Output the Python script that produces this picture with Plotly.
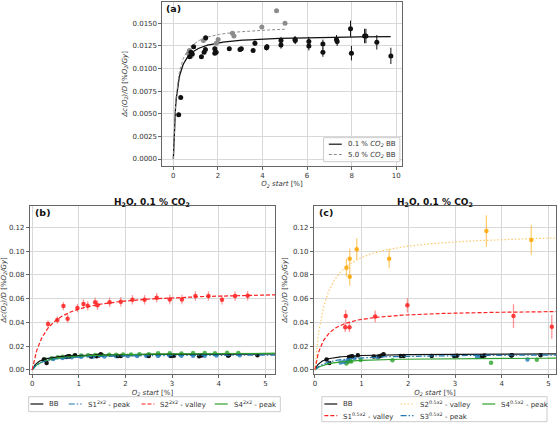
import numpy as np
import plotly.graph_objects as go

W, H = 560, 427

# ---------------- data: panel (a) ----------------
a_bb_x = [0.24, 0.33, 0.73, 0.79, 0.85, 0.91, 1.26, 1.38, 1.44, 1.45, 1.86, 1.86, 1.92, 2.51, 2.99, 3.05,
          3.58, 3.66, 4.18, 4.20, 4.83, 4.83, 5.46, 5.47, 6.08, 6.08, 6.71, 6.71, 7.32, 7.35, 7.95, 7.99,
          8.58, 8.64, 9.13, 9.76]
a_bb_y = [0.0049, 0.0068, 0.0113, 0.0118, 0.0116, 0.0124, 0.0113, 0.0118, 0.0121, 0.0134, 0.0122, 0.0117,
          0.0118, 0.0122, 0.0121, 0.0122, 0.0120, 0.0128, 0.0123, 0.0124, 0.0126, 0.0131, 0.0132, 0.0131,
          0.0130, 0.0125, 0.0127, 0.0118, 0.0132, 0.0130, 0.0144, 0.0117, 0.0136, 0.0136, 0.0129, 0.0114]
a_bb_err = [0.0002, 0.0002, 0.0002, 0.0002, 0.0002, 0.0002, 0.0002, 0.0002, 0.0002, 0.0002, 0.0002, 0.0002,
            0.0002, 0.0002, 0.0002, 0.0002, 0.0002, 0.0003, 0.0003, 0.0003, 0.0004, 0.0004, 0.0004, 0.0004,
            0.0005, 0.0005, 0.0005, 0.0005, 0.0005, 0.0005, 0.0009, 0.0008, 0.0008, 0.0008, 0.0008, 0.0009]
a_gr_x = [0.68, 0.72, 0.80, 1.35, 1.43, 1.93, 2.01, 2.65, 2.72, 3.97, 4.63, 5.01]
a_gr_y = [0.0117, 0.0120, 0.0114, 0.0131, 0.0133, 0.0128, 0.0132, 0.0139, 0.0136, 0.0146, 0.0164, 0.0150]

# fit parameters y = A*x/(B+x)
fit_a_bb = (0.01372, 0.1383)
fit_a_gr = (0.01476, 0.147)

# ---------------- data: panel (b) & (c) BB ----------------
bb_x = [0.25, 0.31, 0.73, 0.77, 0.80, 0.92, 1.26, 1.38, 1.43, 1.47, 1.84, 1.90, 2.50, 2.98, 3.04, 3.58,
        3.63, 4.20, 4.22, 4.83]
bb_y = [0.0087, 0.0058, 0.0108, 0.0112, 0.0115, 0.0122, 0.0112, 0.0114, 0.0120, 0.0132, 0.0117, 0.0117,
        0.0117, 0.0117, 0.0119, 0.0115, 0.0120, 0.0120, 0.0122, 0.0123]

# panel (b)
b_s1_x = [0.27, 0.45, 0.65, 0.85, 1.05, 1.30, 1.55, 1.80, 2.05, 2.25, 2.45, 2.70, 2.95, 3.20, 3.45, 3.70,
          3.95, 4.20, 4.45]
b_s1_y = [0.0080, 0.0092, 0.0100, 0.0106, 0.0110, 0.0111, 0.0113, 0.0115, 0.0116, 0.0117, 0.0117, 0.0117,
          0.0118, 0.0118, 0.0119, 0.0119, 0.0120, 0.0121, 0.0122]
b_s2_x = [0.34, 0.54, 0.67, 0.76, 0.97, 1.10, 1.19, 1.35, 1.40, 1.66, 1.90, 2.15, 2.41, 2.67, 2.95, 3.21,
          3.50, 3.78, 4.07, 4.35, 4.62]
b_s2_y = [0.0385, 0.0420, 0.0537, 0.0431, 0.0520, 0.0555, 0.0539, 0.0570, 0.0544, 0.0570, 0.0573, 0.0590,
          0.0590, 0.0607, 0.0592, 0.0592, 0.0622, 0.0622, 0.0591, 0.0622, 0.0624]
b_s2_err = [0.0030, 0.0030, 0.0035, 0.0035, 0.0035, 0.0040, 0.0040, 0.0040, 0.0040, 0.0040, 0.0040, 0.0040,
            0.0040, 0.0040, 0.0040, 0.0040, 0.0040, 0.0040, 0.0040, 0.0040, 0.0040]
b_s4_x = [0.27, 0.42, 0.55, 0.65, 0.77, 0.90, 1.05, 1.20, 1.35, 1.50, 1.65, 1.80, 1.95, 2.12, 2.30, 2.50,
          2.70, 2.95, 3.20, 3.45, 3.70, 3.92, 4.18, 4.42]
b_s4_y = [0.0090, 0.0098, 0.0105, 0.0110, 0.0115, 0.0118, 0.0120, 0.0122, 0.0125, 0.0124, 0.0127, 0.0128,
          0.0129, 0.0130, 0.0131, 0.0132, 0.0140, 0.0140, 0.0138, 0.0141, 0.0141, 0.0140, 0.0143, 0.0142]

fit_b_s1 = (0.0129, 0.20)
fit_b_s2 = (0.0669, 0.307)
fit_b_s4 = (0.0145, 0.25)

# panel (c)
c_s1_x = [0.65, 0.66, 0.74, 1.29, 1.98, 4.25, 5.07]
c_s1_y = [0.0358, 0.0453, 0.0358, 0.0450, 0.0543, 0.0453, 0.0362]
c_s1_err = [0.004, 0.005, 0.004, 0.005, 0.006, 0.010, 0.010]
c_s2_x = [0.675, 0.746, 0.746, 0.896, 1.59, 3.67, 4.63]
c_s2_y = [0.0860, 0.0936, 0.0784, 0.1015, 0.0936, 0.1169, 0.1093]
c_s2_err = [0.0075, 0.0085, 0.0075, 0.0090, 0.0080, 0.0133, 0.0126]
c_s3_x = [0.55, 0.62, 0.70, 0.85, 1.34, 3.47, 3.55, 4.55]
c_s3_y = [0.0062, 0.0066, 0.0080, 0.0099, 0.0105, 0.0109, 0.0113, 0.0088]
c_s4_x = [0.675, 0.71, 0.75, 0.78, 0.98, 1.66, 3.77, 4.75]
c_s4_y = [0.0054, 0.0068, 0.0076, 0.0070, 0.0082, 0.0080, 0.0060, 0.0086]

fit_c_s1 = (0.0509, 0.197)
fit_c_s2 = (0.1158, 0.223)
fit_c_s3 = (0.0132, 0.30)
fit_c_s4 = (0.01037, 0.296)

BLACK = "#111111"
GRAY = "#8c8c8c"
BLUE = "#1f77b4"
RED = "#ff2020"
GREEN = "#2ca02c"
ORANGE = "#ffa500"
ORANGE_LINE = "rgba(255,190,80,0.85)"
FONT = "DejaVu Sans"
DASH = "4px,2px"
DASHDOT = "6px,2px,1.5px,2px"
DOT = "1.5px,2px"


def mm(p, x):
    x = np.asarray(x, dtype=float)
    return p[0] * x / (p[1] + x)


def px(x):
    return x / W


def py(y):
    return 1 - y / H


fig = go.Figure()

# ---------- panel (a) ----------
fx = np.linspace(0, 9.75, 300)
fig.add_trace(go.Scatter(x=fx, y=mm(fit_a_bb, fx), mode="lines", line=dict(color=BLACK, width=1.3),
                         xaxis="x", yaxis="y", showlegend=False))
fx2 = np.linspace(0, 5.0, 200)
fig.add_trace(go.Scatter(x=fx2, y=mm(fit_a_gr, fx2), mode="lines", line=dict(color=GRAY, width=1, dash="3px,2px"),
                         xaxis="x", yaxis="y", showlegend=False))
fig.add_trace(go.Scatter(x=a_gr_x, y=a_gr_y, mode="markers", marker=dict(color=GRAY, size=5),
                         xaxis="x", yaxis="y", showlegend=False))
fig.add_trace(go.Scatter(x=a_bb_x, y=a_bb_y, mode="markers", marker=dict(color=BLACK, size=5),
                         error_y=dict(type="data", array=a_bb_err, color=BLACK, thickness=1, width=0),
                         xaxis="x", yaxis="y", showlegend=False))

# ---------- panel (b) ----------
fb = np.linspace(0, 5.3, 300)
s4fit = mm(fit_b_s4, fb)
fig.add_trace(go.Scatter(x=fb, y=s4fit * 1.05, mode="lines", line=dict(width=0), xaxis="x2", yaxis="y2",
                         showlegend=False, hoverinfo="skip"))
fig.add_trace(go.Scatter(x=fb, y=s4fit * 0.95, mode="lines", line=dict(width=0), fill="tonexty",
                         fillcolor="rgba(44,160,44,0.35)", xaxis="x2", yaxis="y2", showlegend=False,
                         hoverinfo="skip"))
fig.add_trace(go.Scatter(x=b_s4_x, y=b_s4_y, mode="markers", marker=dict(color=GREEN, size=4.5, opacity=0.8),
                         xaxis="x2", yaxis="y2", showlegend=False))
fig.add_trace(go.Scatter(x=b_s1_x, y=b_s1_y, mode="markers", marker=dict(color=BLUE, size=4.5, opacity=0.8),
                         xaxis="x2", yaxis="y2", showlegend=False))
fig.add_trace(go.Scatter(x=bb_x, y=bb_y, mode="markers", marker=dict(color=BLACK, size=4.5),
                         xaxis="x2", yaxis="y2", showlegend=False))
fig.add_trace(go.Scatter(x=b_s2_x, y=b_s2_y, mode="markers", marker=dict(color=RED, size=4.5, opacity=0.85),
                         error_y=dict(type="data", array=b_s2_err, color="rgba(255,60,60,0.5)", thickness=1.3,
                                      width=0),
                         xaxis="x2", yaxis="y2", showlegend=False))
fig.add_trace(go.Scatter(x=fb, y=mm(fit_a_bb, fb), mode="lines", line=dict(color=BLACK, width=1.2),
                         xaxis="x2", yaxis="y2", showlegend=False))
fig.add_trace(go.Scatter(x=fb, y=s4fit, mode="lines", line=dict(color=GREEN, width=1.2),
                         xaxis="x2", yaxis="y2", showlegend=False))
fig.add_trace(go.Scatter(x=fb, y=mm(fit_b_s1, fb), mode="lines", line=dict(color=BLUE, width=1.2, dash=DASHDOT),
                         xaxis="x2", yaxis="y2", showlegend=False))
fig.add_trace(go.Scatter(x=fb, y=mm(fit_b_s2, fb), mode="lines", line=dict(color=RED, width=1.2, dash=DASH),
                         xaxis="x2", yaxis="y2", showlegend=False))

# ---------- panel (c) ----------
fc = np.linspace(0, 5.3, 300)
fig.add_trace(go.Scatter(x=c_s2_x, y=c_s2_y, mode="markers", marker=dict(color=ORANGE, size=4.5, opacity=0.85),
                         error_y=dict(type="data", array=c_s2_err, color="rgba(255,165,0,0.55)", thickness=1.3,
                                      width=0),
                         xaxis="x3", yaxis="y3", showlegend=False))
fig.add_trace(go.Scatter(x=c_s1_x, y=c_s1_y, mode="markers", marker=dict(color=RED, size=4.5, opacity=0.85),
                         error_y=dict(type="data", array=c_s1_err, color="rgba(255,60,60,0.55)", thickness=1.3,
                                      width=0),
                         xaxis="x3", yaxis="y3", showlegend=False))
fig.add_trace(go.Scatter(x=c_s4_x, y=c_s4_y, mode="markers", marker=dict(color=GREEN, size=4.5, opacity=0.8),
                         xaxis="x3", yaxis="y3", showlegend=False))
fig.add_trace(go.Scatter(x=c_s3_x, y=c_s3_y, mode="markers", marker=dict(color=BLUE, size=4.5, opacity=0.8),
                         xaxis="x3", yaxis="y3", showlegend=False))
fig.add_trace(go.Scatter(x=bb_x, y=bb_y, mode="markers", marker=dict(color=BLACK, size=4.5),
                         xaxis="x3", yaxis="y3", showlegend=False))
fig.add_trace(go.Scatter(x=fc, y=mm(fit_a_bb, fc), mode="lines", line=dict(color=BLACK, width=1.2),
                         xaxis="x3", yaxis="y3", showlegend=False))
fig.add_trace(go.Scatter(x=fc, y=mm(fit_c_s4, fc), mode="lines", line=dict(color=GREEN, width=1.2),
                         xaxis="x3", yaxis="y3", showlegend=False))
fig.add_trace(go.Scatter(x=fc, y=mm(fit_c_s3, fc), mode="lines", line=dict(color=BLUE, width=1.2, dash=DASHDOT),
                         xaxis="x3", yaxis="y3", showlegend=False))
fig.add_trace(go.Scatter(x=fc, y=mm(fit_c_s1, fc), mode="lines", line=dict(color=RED, width=1.2, dash=DASH),
                         xaxis="x3", yaxis="y3", showlegend=False))
fig.add_trace(go.Scatter(x=fc, y=mm(fit_c_s2, fc), mode="lines",
                         line=dict(color=ORANGE_LINE, width=1.2, dash=DOT),
                         xaxis="x3", yaxis="y3", showlegend=False))

# ---------- axes ----------
tickfont = dict(family=FONT, size=7, color="#333")
common = dict(showline=True, linecolor="#666", linewidth=1, mirror=True, ticks="outside", ticklen=3,
              tickcolor="#666", showgrid=True, gridcolor="#d8d8d8", gridwidth=1, zeroline=False,
              tickfont=tickfont)
ytitle = "<i>Δc(O<sub>2</sub>)/D</i> [%<i>O<sub>2</sub>/Gy</i>]"
xtitle = "<i>O<sub>2</sub> start</i> [%]"
tf = dict(family=FONT, size=7, color="#333")

fig.update_layout(
    width=W, height=H, margin=dict(l=0, r=0, t=0, b=0),
    paper_bgcolor="white", plot_bgcolor="white", showlegend=False,
    xaxis=dict(domain=[px(161), px(401)], range=[-0.49, 10.24], tickvals=[0, 2, 4, 6, 8, 10],
               title=dict(text=xtitle, font=tf, standoff=2), anchor="y", **common),
    yaxis=dict(domain=[py(165.7), py(1.7)], range=[-0.00074, 0.01739],
               tickvals=[0, 0.0025, 0.005, 0.0075, 0.01, 0.0125, 0.015], tickformat=".4f",
               title=dict(text=ytitle, font=tf, standoff=4), anchor="x", **common),
    xaxis2=dict(domain=[px(28), px(274)], range=[-0.049, 5.207], tickvals=[0, 1, 2, 3, 4, 5],
                title=dict(text=xtitle, font=tf, standoff=2), anchor="y2", **common),
    yaxis2=dict(domain=[py(374), py(205.7)], range=[-0.0035, 0.1382],
                tickvals=[0, 0.02, 0.04, 0.06, 0.08, 0.10, 0.12], tickformat=".2f",
                title=dict(text=ytitle, font=tf, standoff=4), anchor="x2", **common),
    xaxis3=dict(domain=[px(313), px(556)], range=[-0.021, 5.16], tickvals=[0, 1, 2, 3, 4, 5],
                title=dict(text=xtitle, font=tf, standoff=2), anchor="y3", **common),
    yaxis3=dict(domain=[py(374), py(205.7)], range=[-0.0035, 0.1382],
                tickvals=[0, 0.02, 0.04, 0.06, 0.08, 0.10, 0.12], tickformat=".2f",
                title=dict(text=ytitle, font=tf, standoff=4), anchor="x3", **common),
)

# ---------- titles and panel labels ----------
ann = []
title_txt = "<b>H<sub>2</sub>O, 0.1 % CO<sub>2</sub></b>"
ann.append(dict(x=px((28 + 274) / 2), y=py(202), text=title_txt, showarrow=False, xref="paper", yref="paper",
                font=dict(family=FONT, size=9, color="#111"), xanchor="center", yanchor="middle"))
ann.append(dict(x=px((313 + 556) / 2), y=py(202), text=title_txt, showarrow=False, xref="paper", yref="paper",
                font=dict(family=FONT, size=9, color="#111"), xanchor="center", yanchor="middle"))
for lab, xx, yy in [("(a)", 163, 8.5), ("(b)", 31, 212.5), ("(c)", 316, 212.5)]:
    ann.append(dict(x=px(xx), y=py(yy), text="<b>" + lab + "</b>", showarrow=False, xref="paper", yref="paper",
                    font=dict(family=FONT, size=9.5, color="#111"), xanchor="left", yanchor="middle"))

# ---------- custom legends ----------
shapes = []
lfont = dict(family=FONT, size=7, color="#333")


def legend_box(x0, y0, x1, y1):
    shapes.append(dict(type="rect", xref="paper", yref="paper", x0=px(x0), x1=px(x1), y0=py(y1), y1=py(y0),
                       line=dict(color="#cccccc", width=1), fillcolor="rgba(255,255,255,0.85)", layer="above"))


def legend_entry(x, y, label, color, dash, width=1.2):
    shapes.append(dict(type="line", xref="paper", yref="paper", x0=px(x), x1=px(x + 13), y0=py(y), y1=py(y),
                       line=dict(color=color, width=width, dash=dash), layer="above"))
    ann.append(dict(x=px(x + 17), y=py(y), text=label, showarrow=False, xref="paper", yref="paper",
                    font=lfont, xanchor="left", yanchor="middle"))


legend_box(322.7, 137.7, 399.3, 161.7)
legend_entry(328, 144.2, "0.1 % <i>CO<sub>2</sub></i> BB", BLACK, "solid")
legend_entry(328, 154.5, "5.0 % <i>CO<sub>2</sub></i> BB", GRAY, "3px,2px", 1)

legend_box(26.7, 396.7, 279.3, 411.7)
legend_entry(28.5, 404, "BB", BLACK, "solid")
legend_entry(67, 404, "S1<sup>2x2</sup> - peak", BLUE, DASHDOT)
legend_entry(140, 404, "S2<sup>2x2</sup> - valley", RED, DASH)
legend_entry(213.5, 404, "S4<sup>2x2</sup> - peak", GREEN, "solid")

legend_box(321, 396.7, 547, 421.7)
legend_entry(323.5, 404, "BB", BLACK, "solid")
legend_entry(323.5, 415.7, "S1<sup>0.5x2</sup> - valley", RED, DASH)
legend_entry(400, 404, "S2<sup>0.5x2</sup> - valley", ORANGE_LINE, DOT)
legend_entry(400, 415.7, "S3<sup>0.5x2</sup> - peak", BLUE, DASHDOT)
legend_entry(482, 404, "S4<sup>0.5x2</sup> - peak", GREEN, "solid")

fig.update_layout(annotations=ann, shapes=shapes)

fig.write_html("out.html")
